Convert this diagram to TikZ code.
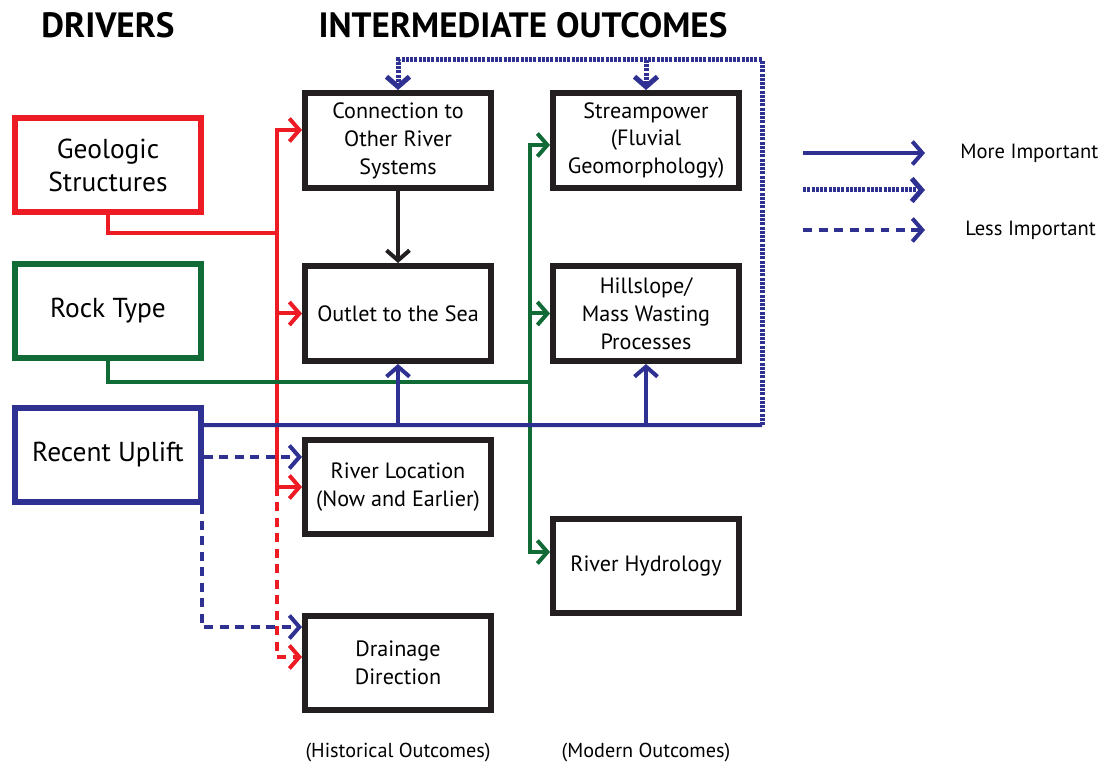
\documentclass[tikz,border=0pt]{standalone}
\usepackage{fontspec}
\setmainfont{PT Sans}
\usetikzlibrary{arrows.meta, positioning}

\definecolor{drvred}{RGB}{237,28,36}
\definecolor{drvgreen}{RGB}{16,107,55}
\definecolor{drvblue}{RGB}{46,49,146}
\definecolor{boxblack}{RGB}{35,31,32}

\begin{document}
\begin{tikzpicture}[
    x=0.02cm, y=-0.02cm,
    driver/.style={draw, line width=0.12cm, minimum width=3.72cm, minimum height=1.9cm, align=center, font=\fontsize{15.6}{18.8}\selectfont},
    outcome/.style={draw=boxblack, line width=0.12cm, minimum width=3.72cm, minimum height=1.9cm, align=center, font=\fontsize{12.6}{15.9}\selectfont},
    heading/.style={font=\fontsize{20}{24}\selectfont\bfseries},
    note/.style={font=\fontsize{11.5}{14}\selectfont},
    legendtext/.style={inner sep=0pt, anchor=west, font=\fontsize{11.7}{14}\selectfont},
    link/.style={line width=0.08cm, -{Straight Barb[length=0.2cm, width=0.46cm]}},
    plain/.style={line width=0.08cm},
    dotline/.style={line width=0.1cm, dash pattern=on 0.06cm off 0.025cm},
    dashline/.style={line width=0.08cm, dash pattern=on 0.18cm off 0.13cm}
]
\useasboundingbox (0,0) rectangle (1104,766);

\node[heading] (drv) at (108,25) {DRIVERS};
\node[heading] (inter) at (523,25) {INTERMEDIATE OUTCOMES};

\node[driver, draw=drvred] (geo) at (108,165) {Geologic\\Structures};
\node[driver, draw=drvgreen] (rock) at (108,311) {Rock Type};
\node[driver, draw=drvblue] (uplift) at (108,455) {Recent Uplift};

\node[outcome] (conn) at (398,140.5) {Connection to\\Other River\\Systems};
\node[outcome] (outlet) at (398,313.5) {Outlet to the Sea};
\node[outcome] (loc) at (398,487) {River Location\\(Now and Earlier)};
\node[outcome] (drain) at (398,663) {Drainage\\Direction};
\node[outcome] (stream) at (646,140.5) {Streampower\\(Fluvial\\Geomorphology)};
\node[outcome] (hill) at (646,313.5) {Hillslope/\\Mass Wasting\\Processes};
\node[outcome] (hydro) at (646,566) {River Hydrology};

\node[note] (hist) at (398,753) {(Historical Outcomes)};
\node[note] (modern) at (646,753) {(Modern Outcomes)};

% geologic structures
\coordinate (rbend) at (277,233);
\draw[plain, drvred] (geo.south) |- (rbend);
\draw[link, drvred] (rbend) |- ([yshift=0.21cm]conn.west);
\draw[link, drvred] (rbend) |- (outlet.west);
\draw[link, drvred] (rbend) |- (loc.west);
\draw[link, dashline, drvred] (rbend |- loc.west) |- ([yshift=0.12cm]drain.west);

% rock type
\coordinate (gbend) at (530,382);
\draw[plain, drvgreen] (rock.south) |- (gbend);
\draw[link, drvgreen] (gbend) |- ([yshift=-0.09cm]stream.west);
\draw[link, drvgreen] (gbend) |- (hill.west);
\draw[link, drvgreen] (gbend) |- ([yshift=0.28cm]hydro.west);

% recent uplift
\coordinate (bcorner) at (762,425);
\coordinate (btop) at (762,60);
\draw[plain, drvblue] ([yshift=0.6cm]uplift.east) -- (bcorner);
\draw[link, drvblue] (outlet.south |- bcorner) -- (outlet.south);
\draw[link, drvblue] (hill.south |- bcorner) -- (hill.south);
\draw[link, dotline, drvblue] (bcorner) -- (btop) -| (conn.north);
\draw[link, dotline, drvblue] (stream.north |- btop) -- (stream.north);
\draw[link, dashline, drvblue] ([yshift=-0.04cm]uplift.east) -- ([yshift=-0.04cm]uplift.east -| loc.west);
\draw[link, dashline, drvblue] ([xshift=-0.04cm]uplift.south east) |- ([yshift=0.72cm]drain.west);

\draw[link, boxblack] (conn.south) -- (outlet.north);

% legend
\coordinate (moreA) at (803,153);
\coordinate (moreB) at (925,153);
\coordinate (midA) at (803,190);
\coordinate (midB) at (925,190);
\coordinate (lessA) at (803,230);
\coordinate (lessB) at (925,230);
\draw[link, drvblue] (moreA) -- (moreB);
\draw[link, dotline, drvblue] (midA) -- (midB);
\draw[link, dashline, drvblue] (lessA) -- (lessB);
\node[legendtext, right=0.7cm of moreB] (more) {More Important};
\node[legendtext, right=0.8cm of lessB] (less) {Less Important};
\end{tikzpicture}
\end{document}
